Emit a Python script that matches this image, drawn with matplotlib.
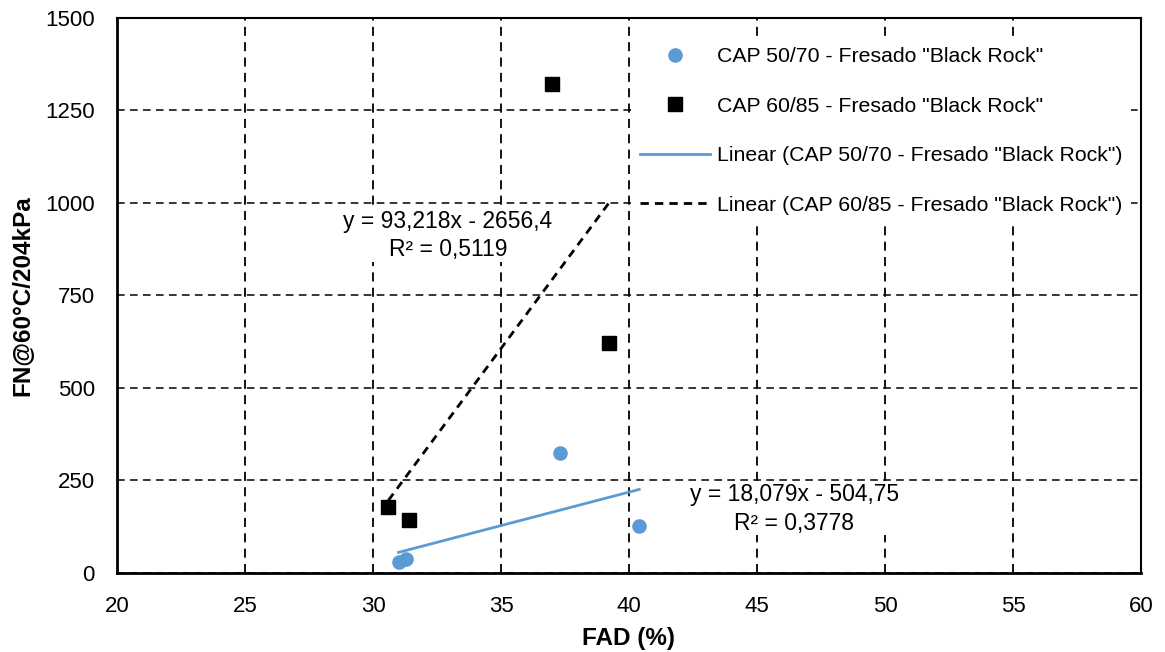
import matplotlib
matplotlib.use("Agg")
import numpy as np
import matplotlib.pyplot as plt

# Datos
fad_5070 = [31.0, 31.3, 37.3, 40.4]
fn_5070 = [30, 39, 324, 127]
fad_6085 = [30.6, 31.4, 37.0, 39.2]
fn_6085 = [179, 143, 1320, 620]

# Coeficientes de las líneas de tendencia (del gráfico)
coef_5070 = (18.079, -504.75)
coef_6085 = (93.218, -2656.4)
r2_5070 = "0,3778"
r2_6085 = "0,5119"

lbl_5070 = 'CAP 50/70 - Fresado "Black Rock"'
lbl_6085 = 'CAP 60/85 - Fresado "Black Rock"'

azul = "#5B9BD5"

plt.rcParams['font.family'] = ['Liberation Sans', 'DejaVu Sans']

fig = plt.figure(figsize=(11.65, 6.52), dpi=100)
ax = fig.add_axes([117 / 1165, 1 - 573 / 652, (1141 - 117) / 1165, (573 - 17.5) / 652])

ax.plot(fad_5070, fn_5070, 'o', color=azul, markersize=9.5, label=lbl_5070, zorder=4)
ax.plot(fad_6085, fn_6085, 's', color='black', markersize=10, label=lbl_6085, zorder=4)

# Líneas de tendencia
x1 = np.array([min(fad_5070), max(fad_5070)])
ax.plot(x1, coef_5070[0] * x1 + coef_5070[1], '-', color=azul, lw=2.0,
        label='Linear (' + lbl_5070 + ')', zorder=3)
x2 = np.array([min(fad_6085), max(fad_6085)])
ax.plot(x2, coef_6085[0] * x2 + coef_6085[1], '--', color='black', lw=2.0,
        dashes=(3, 2.2), label='Linear (' + lbl_6085 + ')', zorder=3)

ax.set_xlim(20, 60)
ax.set_ylim(0, 1500)
ax.set_xticks(range(20, 61, 5))
ax.set_yticks(range(0, 1501, 250))
ax.tick_params(labelsize=16, length=0)
ax.tick_params(axis='y', pad=16)
ax.tick_params(axis='x', pad=16.5)

ax.grid(True, axis='x', color='black', linestyle=(0, (5, 3.5)), linewidth=1.3, zorder=0)
ax.grid(True, axis='y', color='black', linestyle=(0, (5, 3.5)), linewidth=1.1, zorder=0)
ax.set_axisbelow(True)
for s in ['left', 'bottom']:
    ax.spines[s].set_linewidth(2.0)
for s in ['top', 'right']:
    ax.spines[s].set_linewidth(1.5)

ax.set_xlabel('FAD (%)', fontsize=17.5, fontweight='bold', labelpad=7)
ax.set_ylabel('FN@60°C/204kPa', fontsize=17.5, fontweight='bold', labelpad=8)

# Ecuaciones
caja = dict(facecolor='white', edgecolor='none', pad=0.5)
ax.text(32.93, 911, 'y = 93,218x - 2656,4\nR² = ' + r2_6085, ha='center', va='center',
        fontsize=16.5, linespacing=1.3, bbox=caja, zorder=2)
ax.text(46.45, 173, 'y = 18,079x - 504,75\nR² = ' + r2_5070, ha='center', va='center',
        fontsize=16.5, linespacing=1.3, bbox=caja, zorder=2)

leg = ax.legend(loc='upper left', bbox_to_anchor=(631.5 / 1165, 1 - 39 / 652),
                bbox_transform=fig.transFigure, fontsize=15.3, frameon=True,
                handlelength=3.3, handletextpad=0.33, labelspacing=1.43,
                borderpad=0.4, borderaxespad=0, fancybox=False)
leg.get_frame().set_edgecolor('none')
leg.get_frame().set_facecolor('white')
leg.get_frame().set_alpha(1)

fig.savefig('out.png', dpi=100)
